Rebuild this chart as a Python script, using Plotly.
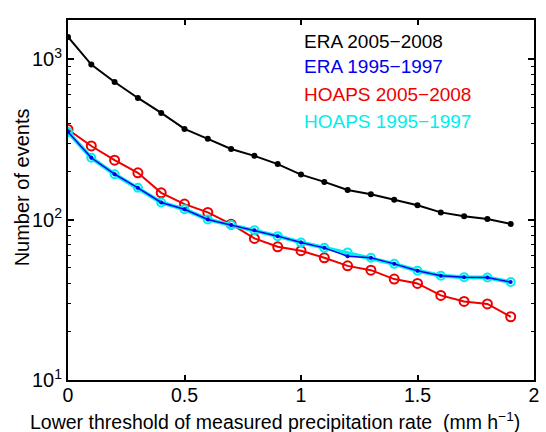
import plotly.graph_objects as go

x = [0.0, 0.1, 0.2, 0.3, 0.4, 0.5, 0.6, 0.7, 0.8, 0.9, 1.0, 1.1, 1.2, 1.3, 1.4, 1.5, 1.6, 1.7, 1.8, 1.9]

era_0508 = [1377, 927, 722, 574, 463, 368, 319, 276, 250, 222, 191, 172, 153, 144, 133, 123, 111, 105, 101, 94]
era_9597 = [352, 243, 192, 158, 128, 116, 100.3, 92.5, 86.0, 78.9, 72.1, 66.7, 59.2, 57.8, 53.0, 48.0, 44.7, 43.8, 43.6, 40.8]
hoaps_0508 = [365, 288, 235, 196, 147, 125, 111, 93.7, 76.4, 67.7, 64.0, 57.8, 51.5, 48.4, 42.6, 40.0, 33.7, 30.9, 29.8, 24.8]
hoaps_9597 = [352, 243, 192, 158, 128, 116, 100.3, 92.5, 86.0, 78.9, 72.1, 66.7, 62.5, 57.8, 53.0, 48.0, 44.7, 43.8, 43.6, 40.8]

labels = ["ERA 2005−2008", "ERA 1995−1997", "HOAPS 2005−2008", "HOAPS 1995−1997"]
colors = ["#000000", "#0000ee", "#ee0000", "#00eeee"]

x_ticks = [0, 0.5, 1, 1.5, 2]
x_ticktext = ["0", "0.5", "1", "1.5", "2"]
y_ticks = [10, 100, 1000]
y_ticktext = ["10<sup>1</sup>", "10<sup>2</sup>", "10<sup>3</sup>"]
y_minor = [v * m for m in (10, 100, 1000) for v in range(2, 10)]
x_title = "Lower threshold of measured precipitation rate  (mm h<sup>−1</sup>)"
y_title = "Number of events"

FONT = "Liberation Sans, Arial, Helvetica, sans-serif"

fig = go.Figure()
fig.add_trace(go.Scatter(x=x, y=era_0508, mode="lines+markers", name=labels[0],
                         line=dict(color=colors[0], width=2),
                         marker=dict(symbol="circle", size=6, color=colors[0])))
fig.add_trace(go.Scatter(x=x, y=hoaps_0508, mode="lines+markers", name=labels[2],
                         line=dict(color=colors[2], width=2),
                         marker=dict(symbol="circle-open", size=9, color=colors[2], line=dict(width=2))))
fig.add_trace(go.Scatter(x=x, y=hoaps_9597, mode="lines+markers", name=labels[3],
                         line=dict(color=colors[3], width=4),
                         marker=dict(symbol="circle-open", size=8, color=colors[3], line=dict(width=2))))
fig.add_trace(go.Scatter(x=x, y=era_9597, mode="lines+markers", name=labels[1],
                         line=dict(color=colors[1], width=1.5),
                         marker=dict(symbol="circle", size=4, color=colors[1])))

ys = [0.941, 0.871, 0.794, 0.717]
for lab, col, yy in zip(labels, colors, ys):
    fig.add_annotation(x=0.503, y=yy, xref="paper", yref="paper", text=lab,
                       showarrow=False, xanchor="left", yanchor="middle",
                       font=dict(family=FONT, size=19, color=col))

fig.add_annotation(x=0.445, y=-0.075, xref="paper", yref="paper", text=x_title,
                   showarrow=False, xanchor="center", yanchor="top",
                   font=dict(family=FONT, size=19.5, color="black"))
fig.add_annotation(x=-0.098, y=0.536, xref="paper", yref="paper", text=y_title,
                   showarrow=False, xanchor="center", yanchor="middle", textangle=-90,
                   font=dict(family=FONT, size=20, color="black"))

fig.update_layout(
    width=546, height=432,
    margin=dict(l=68, r=7, t=20, b=52),
    paper_bgcolor="white", plot_bgcolor="white",
    showlegend=False,
    font=dict(family=FONT, size=20, color="black"),
    xaxis=dict(range=[0, 2], tickmode="array", tickvals=x_ticks, ticktext=x_ticktext,
               ticks="inside", ticklen=5, tickwidth=1.5, tickcolor="black",
               ticklabelstandoff=-3,
               showline=True, linecolor="black", linewidth=2, mirror="ticks",
               showgrid=False, zeroline=False, tickfont=dict(size=19.5)),
    yaxis=dict(type="log", range=[1, 3.245], tickmode="array", tickvals=y_ticks, ticktext=y_ticktext,
               ticks="inside", ticklen=6, tickwidth=1.5, tickcolor="black",
               minor=dict(tickmode="array", tickvals=y_minor, ticks="inside", ticklen=3,
                          tickwidth=1.2, tickcolor="black", showgrid=False),
               showline=True, linecolor="black", linewidth=2, mirror="ticks",
               showgrid=False, zeroline=False, tickfont=dict(size=20)),
)

fig.write_html("out.html")
